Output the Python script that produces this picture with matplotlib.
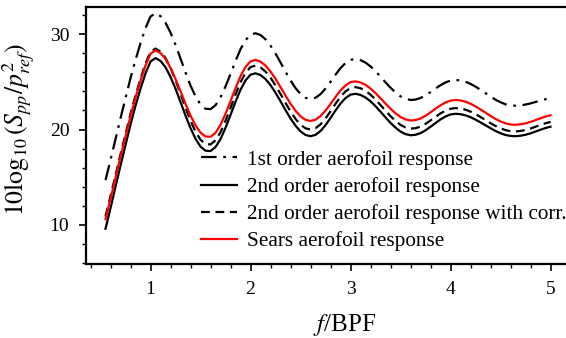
import matplotlib
matplotlib.use("Agg")
import matplotlib.pyplot as plt
from matplotlib.ticker import MultipleLocator

plt.rcParams['font.family'] = ['Liberation Serif', 'DejaVu Serif']
plt.rcParams['mathtext.fontset'] = 'stix'

# Frequency normalised by blade passing frequency
f_bpf = [0.55, 0.60, 0.65, 0.70, 0.75, 0.80, 0.85, 0.90, 0.95, 1.00,
         1.05, 1.10, 1.15, 1.20, 1.25, 1.30, 1.35, 1.40, 1.45, 1.50, 1.55,
         1.60, 1.65, 1.70, 1.75, 1.80, 1.85, 1.90, 1.95, 2.00, 2.05,
         2.10, 2.15, 2.20, 2.25, 2.30, 2.35, 2.40, 2.45, 2.50, 2.55, 2.60,
         2.65, 2.70, 2.75, 2.80, 2.85, 2.90, 2.95, 3.00, 3.05,
         3.10, 3.15, 3.20, 3.25, 3.30, 3.35, 3.40, 3.45, 3.50, 3.55, 3.60,
         3.65, 3.70, 3.75, 3.80, 3.85, 3.90, 3.95, 4.00, 4.05,
         4.10, 4.15, 4.20, 4.25, 4.30, 4.35, 4.40, 4.45, 4.50, 4.55, 4.60, 4.65,
         4.70, 4.75, 4.80, 4.85, 4.90, 4.95, 5.00]

# Sound pressure spectra, 10log10(Spp/pref^2)
first_order = [14.70, 16.80, 18.99, 21.18, 23.28, 25.38, 27.30, 29.05, 30.63, 31.85,
               32.19, 31.89, 31.20, 30.17, 28.88, 27.45, 25.99, 24.62, 23.48, 22.63, 22.18,
               22.14, 22.55, 23.37, 24.52, 25.82, 27.18, 28.42, 29.37, 29.95, 30.10,
               29.91, 29.47, 28.80, 27.97, 27.04, 26.07, 25.15, 24.35, 23.73, 23.33, 23.20,
               23.33, 23.71, 24.30, 25.00, 25.75, 26.44, 26.98, 27.31, 27.40,
               27.28, 27.02, 26.62, 26.12, 25.55, 24.95, 24.39, 23.89, 23.48, 23.22, 23.10,
               23.14, 23.31, 23.58, 23.93, 24.30, 24.65, 24.94, 25.13, 25.20,
               25.15, 25.01, 24.79, 24.50, 24.17, 23.82, 23.46, 23.13, 22.86, 22.65, 22.53, 22.50,
               22.54, 22.62, 22.74, 22.89, 23.04, 23.18, 23.30]

second_order = [9.60, 11.75, 13.99, 16.22, 18.37, 20.52, 22.49, 24.28, 25.89, 27.14,
                27.49, 27.20, 26.53, 25.53, 24.28, 22.89, 21.47, 20.15, 19.04, 18.21, 17.78,
                17.74, 18.16, 19.00, 20.18, 21.52, 22.91, 24.17, 25.15, 25.75, 25.90,
                25.72, 25.29, 24.66, 23.86, 22.97, 22.04, 21.17, 20.40, 19.81, 19.43, 19.30,
                19.44, 19.84, 20.46, 21.21, 22.00, 22.73, 23.30, 23.66, 23.75,
                23.63, 23.36, 22.96, 22.45, 21.87, 21.28, 20.70, 20.20, 19.79, 19.52, 19.40,
                19.45, 19.62, 19.92, 20.29, 20.68, 21.06, 21.37, 21.58, 21.65,
                21.61, 21.49, 21.30, 21.04, 20.75, 20.45, 20.14, 19.85, 19.61, 19.43, 19.33, 19.30,
                19.35, 19.45, 19.60, 19.79, 19.98, 20.16, 20.30]

second_order_corr = [10.90, 13.01, 15.21, 17.41, 19.52, 21.64, 23.57, 25.33, 26.92, 28.15,
                     28.49, 28.19, 27.50, 26.47, 25.18, 23.75, 22.29, 20.92, 19.78, 18.93, 18.48,
                     18.44, 18.86, 19.72, 20.91, 22.26, 23.67, 24.95, 25.94, 26.55, 26.70,
                     26.51, 26.08, 25.44, 24.63, 23.73, 22.79, 21.90, 21.12, 20.51, 20.13, 20.00,
                     20.14, 20.54, 21.16, 21.91, 22.70, 23.43, 24.00, 24.36, 24.45,
                     24.33, 24.06, 23.66, 23.15, 22.57, 21.98, 21.40, 20.90, 20.49, 20.22, 20.10,
                     20.14, 20.31, 20.59, 20.95, 21.33, 21.69, 21.99, 22.18, 22.25,
                     22.21, 22.08, 21.88, 21.62, 21.31, 20.99, 20.67, 20.38, 20.13, 19.94, 19.83, 19.80,
                     19.85, 19.95, 20.10, 20.29, 20.48, 20.66, 20.80]

sears = [10.60, 12.72, 14.94, 17.15, 19.27, 21.40, 23.34, 25.11, 26.71, 27.95,
         28.29, 28.03, 27.40, 26.47, 25.31, 24.02, 22.70, 21.47, 20.44, 19.68, 19.27,
         19.24, 19.65, 20.49, 21.65, 22.97, 24.34, 25.59, 26.56, 27.15, 27.30,
         27.12, 26.71, 26.09, 25.32, 24.46, 23.56, 22.71, 21.97, 21.39, 21.02, 20.90,
         21.03, 21.41, 21.98, 22.68, 23.42, 24.10, 24.63, 24.97, 25.05,
         24.94, 24.68, 24.30, 23.83, 23.28, 22.72, 22.18, 21.70, 21.32, 21.06, 20.95,
         20.99, 21.16, 21.44, 21.80, 22.18, 22.54, 22.84, 23.03, 23.10,
         23.05, 22.92, 22.71, 22.43, 22.11, 21.77, 21.43, 21.11, 20.85, 20.65, 20.53, 20.50,
         20.55, 20.65, 20.80, 20.99, 21.18, 21.36, 21.50]

labels = ['1st order aerofoil response',
          '2nd order aerofoil response',
          '2nd order aerofoil response with corr.',
          'Sears aerofoil response']

W, H = 566, 338
fig = plt.figure(figsize=(W / 100, H / 100), dpi=100)
x0, x1 = 0.355, 5.3
ax_left, ax_bottom, ax_top = 86, 264, 7
ax = fig.add_axes([ax_left / W, 1 - ax_bottom / H,
                   (x1 - x0) * 100 / W, (ax_bottom - ax_top) / H])

lw = 1.6
ax.plot(f_bpf, first_order, color='black', lw=lw, dashes=(7, 3, 1.2, 3), label=labels[0])
ax.plot(f_bpf, second_order, color='black', lw=lw, label=labels[1])
ax.plot(f_bpf, second_order_corr, color='black', lw=lw, dashes=(4, 2.5), label=labels[2])
ax.plot(f_bpf, sears, color='#ff0000', lw=lw, label=labels[3])

ax.set_xlim(x0, x1)
ax.set_ylim(5.9, 32.85)
ax.xaxis.set_major_locator(MultipleLocator(1))
ax.xaxis.set_minor_locator(MultipleLocator(0.2))
ax.yaxis.set_major_locator(MultipleLocator(10))
ax.yaxis.set_minor_locator(MultipleLocator(2))
ax.tick_params(which='major', direction='out', length=5, width=1.2, labelsize=14, pad=7)
ax.tick_params(which='minor', direction='out', length=3, width=1.0)
ax.tick_params(top=False, right=False)
for s in ax.spines.values():
    s.set_linewidth(1.6)

ax.set_xlabel(r'$f$/BPF', fontsize=18)
ax.xaxis.set_label_coords((344.5 - ax_left) / ((x1 - x0) * 100), -0.185)
ax.set_ylabel(r'$10\log_{10}(S_{pp}/p^2_{ref})$', fontsize=18.5)
ax.yaxis.set_label_coords(-0.099, 0.525)

leg = fig.legend(loc='upper left', bbox_to_anchor=(201 / W, 1 - 150 / H),
                 bbox_transform=fig.transFigure, frameon=False, fontsize=15.3,
                 handlelength=1.7, handletextpad=0.47, labelspacing=0.34,
                 borderpad=0, borderaxespad=0)

fig.savefig('out.png', dpi=100)
